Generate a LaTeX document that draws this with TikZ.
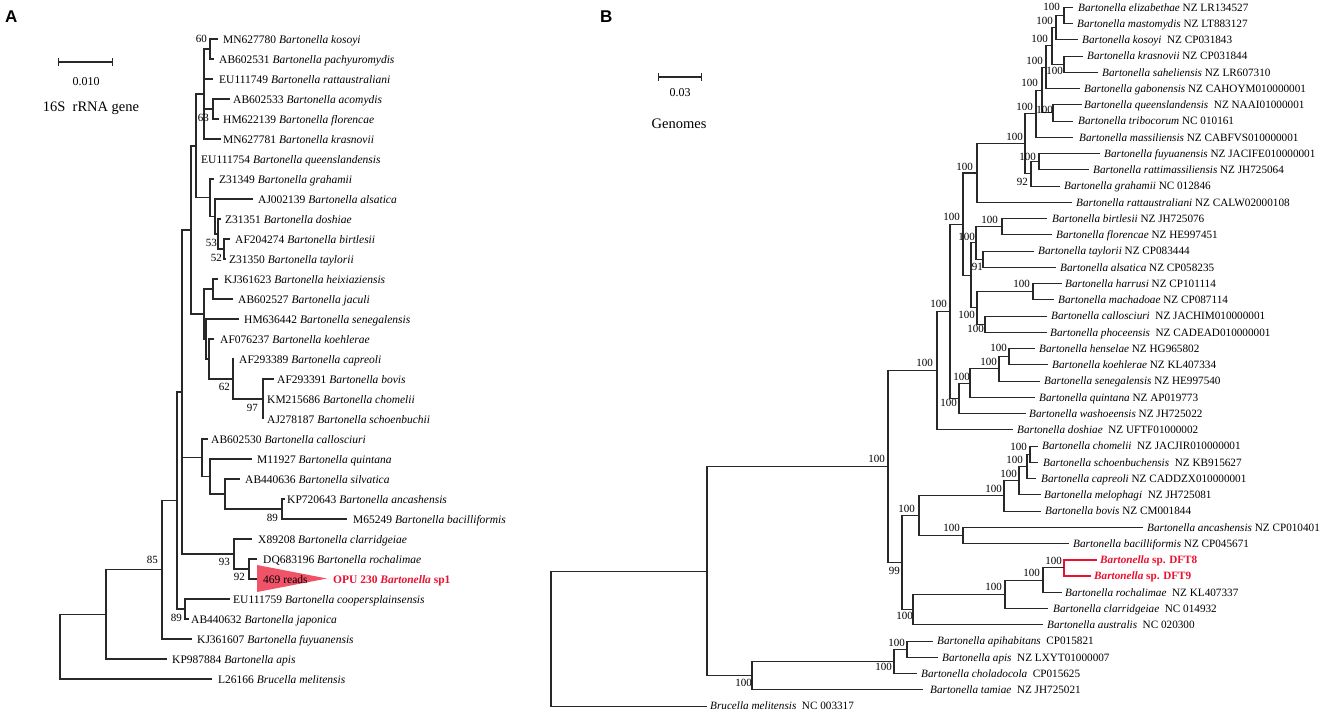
\documentclass[tikz,border=0pt]{standalone}
\usepackage{fontspec}
\setmainfont{Liberation Serif}
\newfontfamily\panelsans{Liberation Sans}
\definecolor{hl}{RGB}{232,18,48}
\definecolor{trifill}{RGB}{240,82,104}
\definecolor{ln}{RGB}{40,40,40}
\newcommand{\tipA}[5]{\coordinate (#1) at (#2,#3); \node[taxa] (l#1) at (#4,#3) {#5};}
\newcommand{\tipB}[5]{\coordinate (#1) at (#2,#3); \node[taxb] (l#1) at (#4,#3) {#5};}
\newcommand{\bt}[2]{\textit{Bartonella #1}\ #2}
\begin{document}
\begin{tikzpicture}[x=1pt,y=-1pt,
  br/.style={draw=ln, line width=1.1pt},
  redbr/.style={draw=hl, line width=1.5pt},
  taxa/.style={anchor=base west, inner sep=0pt, yshift=-4pt, font=\fontsize{11.5}{13}\selectfont},
  taxb/.style={anchor=base west, inner sep=0pt, yshift=-3.9pt, font=\fontsize{11.2}{13}\selectfont},
  bs/.style={anchor=base east, inner sep=0pt, yshift=-3.8pt, font=\fontsize{11}{12}\selectfont},
  panel/.style={anchor=base west, inner sep=0pt, font=\panelsans\bfseries\fontsize{17}{18}\selectfont},
  sbar/.style={draw=ln, line width=1.1pt, |-|}]
\useasboundingbox (0,0) rectangle (1325,712);
\fill[white] (0,0) rectangle (1325,712);

% ================= Panel A =================
\node[panel] (pA) at (5,23) {A};
\coordinate (sa1) at (58,62); \coordinate (sa2) at (113,62);
\draw[sbar] (sa1) -- (sa2);
\node[font=\fontsize{12}{13}\selectfont, inner sep=0pt] (sal) at (86,82) {0.010};
\node[font=\fontsize{14.5}{16}\selectfont, inner sep=0pt] (gene) at (91,108) {16S\ \ rRNA gene};

\tipA{a0}{218}{39}{223}{MN627780 \textit{Bartonella kosoyi}}
\tipA{a1}{214}{59}{219}{AB602531 \textit{Bartonella pachyuromydis}}
\tipA{a2}{213}{79}{219}{EU111749 \textit{Bartonella rattaustraliani}}
\tipA{a3}{230}{99}{233}{AB602533 \textit{Bartonella acomydis}}
\tipA{a4}{219}{119}{223}{HM622139 \textit{Bartonella florencae}}
\tipA{a5}{221}{139}{223}{MN627781 \textit{Bartonella krasnovii}}
\tipA{a6}{197}{159}{201}{EU111754 \textit{Bartonella queenslandensis}}
\tipA{a7}{214}{179}{219}{Z31349 \textit{Bartonella grahamii}}
\tipA{a8}{253}{199}{258}{AJ002139 \textit{Bartonella alsatica}}
\tipA{a9}{221}{219}{225}{Z31351 \textit{Bartonella doshiae}}
\tipA{a10}{230}{239}{235}{AF204274 \textit{Bartonella birtlesii}}
\tipA{a11}{226}{259}{229}{Z31350 \textit{Bartonella taylorii}}
\tipA{a12}{218}{279}{224}{KJ361623 \textit{Bartonella heixiaziensis}}
\tipA{a13}{233}{299}{238}{AB602527 \textit{Bartonella jaculi}}
\tipA{a14}{239}{319}{244}{HM636442 \textit{Bartonella senegalensis}}
\tipA{a15}{214}{339}{220}{AF076237 \textit{Bartonella koehlerae}}
\tipA{a16}{234}{359}{239}{AF293389 \textit{Bartonella capreoli}}
\tipA{a17}{274}{379}{277}{AF293391 \textit{Bartonella bovis}}
\tipA{a18}{263}{399}{267}{KM215686 \textit{Bartonella chomelii}}
\tipA{a19}{263}{419}{267}{AJ278187 \textit{Bartonella schoenbuchii}}
\tipA{a20}{208}{439}{211}{AB602530 \textit{Bartonella callosciuri}}
\tipA{a21}{252}{459}{257}{M11927 \textit{Bartonella quintana}}
\tipA{a22}{240}{479}{245}{AB440636 \textit{Bartonella silvatica}}
\tipA{a23}{285}{499}{287}{KP720643 \textit{Bartonella ancashensis}}
\tipA{a24}{347}{519}{353}{M65249 \textit{Bartonella bacilliformis}}
\tipA{a25}{252}{539}{258}{X89208 \textit{Bartonella clarridgeiae}}
\tipA{a26}{257}{559}{263}{DQ683196 \textit{Bartonella rochalimae}}
\coordinate (a27) at (257,579);
\tipA{a28}{230}{599}{233}{EU111759 \textit{Bartonella coopersplainsensis}}
\tipA{a29}{189}{619}{191}{AB440632 \textit{Bartonella japonica}}
\tipA{a30}{192}{639}{197}{KJ361607 \textit{Bartonella fuyuanensis}}
\tipA{a31}{167}{659}{172}{KP987884 \textit{Bartonella apis}}
\tipA{a32}{212}{679}{218}{L26166 \textit{Brucella melitensis}}

% collapsed clade
\fill[trifill] (257,565) -- (327,578.5) -- (257,592) -- cycle;
\node[taxa] (reads) at (263,579) {469 reads};
\node[taxa, text=hl] (opu) at (333,579) {\bfseries OPU 230 \textit{Bartonella} sp1};

\coordinate (a60) at (210,49);
\coordinate (a63) at (213,109);
\coordinate (aP1) at (204,94);
\coordinate (aN4) at (224,249);
\coordinate (aN3) at (218,234);
\coordinate (aN2) at (215,216.5);
\coordinate (aN1) at (210,197.75);
\coordinate (aQ) at (196,146);
\coordinate (aH1) at (213,289);
\coordinate (a97) at (263,399);
\coordinate (a62) at (233,379);
\coordinate (aK) at (209,359);
\coordinate (aHp) at (206,339);
\coordinate (aH) at (204,314);
\coordinate (a191) at (191,230);
\coordinate (a282) at (282,509);
\coordinate (a225) at (225,494);
\coordinate (a210) at (210,476.5);
\coordinate (a202) at (202,457.75);
\coordinate (a92) at (249,569);
\coordinate (a93) at (234,554);
\coordinate (a182) at (182,392);
\coordinate (a89) at (185,609);
\coordinate (a177) at (177,500.5);
\coordinate (a85) at (162,569.75);
\coordinate (a106) at (106,614.4);
\coordinate (aR) at (60,646.7);

\draw[br] (a60) |- (a0);  \draw[br] (a60) |- (a1);
\draw[br] (a63) |- (a3);  \draw[br] (a63) |- (a4);
\draw[br] (aP1) |- (a60); \draw[br] (aP1) |- (a2); \draw[br] (aP1) |- (a63); \draw[br] (aP1) |- (a5);
\draw[br] (aN4) |- (a10); \draw[br] (aN4) |- (a11);
\draw[br] (aN3) |- (a9);  \draw[br] (aN3) |- (aN4);
\draw[br] (aN2) |- (a8);  \draw[br] (aN2) |- (aN3);
\draw[br] (aN1) |- (a7);  \draw[br] (aN1) |- (aN2);
\draw[br] (aQ) |- (aP1);  \draw[br] (aQ) |- (a6); \draw[br] (aQ) |- (aN1);
\draw[br] (aH1) |- (a12); \draw[br] (aH1) |- (a13);
\draw[br] (a97) |- (a17); \draw[br] (a97) |- (a18); \draw[br] (a97) |- (a19);
\draw[br] (a62) |- (a16); \draw[br] (a62) |- (a97);
\draw[br] (aK) |- (a15);  \draw[br] (aK) |- (a62);
\draw[br] (aHp) |- (a14); \draw[br] (aHp) |- (aK);
\draw[br] (aH) |- (aH1);  \draw[br] (aH) |- (aHp);
\draw[br] (a191) |- (aQ); \draw[br] (a191) |- (aH);
\draw[br] (a282) |- (a23); \draw[br] (a282) |- (a24);
\draw[br] (a225) |- (a22); \draw[br] (a225) |- (a282);
\draw[br] (a210) |- (a21); \draw[br] (a210) |- (a225);
\draw[br] (a202) |- (a20); \draw[br] (a202) |- (a210);
\draw[br] (a92) |- (a26); \draw[br] (a92) |- (a27);
\draw[br] (a93) |- (a25); \draw[br] (a93) |- (a92);
\draw[br] (a182) |- (a191); \draw[br] (a182) |- (a202); \draw[br] (a182) |- (a93);
\draw[br] (a89) |- (a28); \draw[br] (a89) |- (a29);
\draw[br] (a177) |- (a182); \draw[br] (a177) |- (a89);
\draw[br] (a85) |- (a177); \draw[br] (a85) |- (a30);
\draw[br] (a106) |- (a85); \draw[br] (a106) |- (a31);
\draw[br] (aR) |- (a106); \draw[br] (aR) |- (a32);

\node[bs] (s60) at (207,39) {60};
\node[bs] (s63) at (209,118) {63};
\node[bs] (s53) at (217,243) {53};
\node[bs] (s52) at (222,258) {52};
\node[bs] (s62) at (230,387) {62};
\node[bs] (s97) at (258,408) {97};
\node[bs] (s89a) at (278,518) {89};
\node[bs] (s93) at (230,562) {93};
\node[bs] (s92) at (245,577) {92};
\node[bs] (s89b) at (182,618) {89};
\node[bs] (s85) at (158,560) {85};

% ================= Panel B =================
\node[panel] (pB) at (600,23) {B};
\coordinate (sb1) at (658,77); \coordinate (sb2) at (702,77);
\draw[sbar] (sb1) -- (sb2);
\node[font=\fontsize{12}{13}\selectfont, inner sep=0pt] (sbl) at (680,93) {0.03};
\node[font=\fontsize{14.5}{16}\selectfont, inner sep=0pt] (genomes) at (679,124) {Genomes};

\tipB{b0}{1073}{7.3}{1078}{\bt{elizabethae}{NZ LR134527}}
\tipB{b1}{1073}{23.55}{1077}{\bt{mastomydis}{NZ LT883127}}
\tipB{b2}{1078}{39.8}{1082}{\bt{kosoyi}{\ NZ CP031843}}
\tipB{b3}{1083}{56.05}{1087}{\bt{krasnovii}{NZ CP031844}}
\tipB{b4}{1098}{72.3}{1102}{\bt{saheliensis}{NZ LR607310}}
\tipB{b5}{1080}{88.55}{1084}{\bt{gabonensis}{NZ CAHOYM010000001}}
\tipB{b6}{1082}{104.8}{1084}{\bt{queenslandensis}{\ NZ NAAI01000001}}
\tipB{b7}{1073}{121.05}{1078}{\bt{tribocorum}{NC 010161}}
\tipB{b8}{1073}{137.3}{1079}{\bt{massiliensis}{NZ CABFVS010000001}}
\tipB{b9}{1100}{153.55}{1104}{\bt{fuyuanensis}{NZ JACIFE010000001}}
\tipB{b10}{1089}{169.8}{1093}{\bt{rattimassiliensis}{NZ JH725064}}
\tipB{b11}{1060}{186.05}{1064}{\bt{grahamii}{NC 012846}}
\tipB{b12}{1072}{202.3}{1076}{\bt{rattaustraliani}{NZ CALW02000108}}
\tipB{b13}{1047}{218.55}{1052}{\bt{birtlesii}{NZ JH725076}}
\tipB{b14}{1052}{234.8}{1056}{\bt{florencae}{NZ HE997451}}
\tipB{b15}{1034}{251.05}{1038}{\bt{taylorii}{NZ CP083444}}
\tipB{b16}{1056}{267.3}{1060}{\bt{alsatica}{NZ CP058235}}
\tipB{b17}{1062}{283.55}{1065}{\bt{harrusi}{NZ CP101114}}
\tipB{b18}{1054}{299.8}{1058}{\bt{machadoae}{NZ CP087114}}
\tipB{b19}{1047}{316.05}{1051}{\bt{callosciuri}{\ NZ JACHIM010000001}}
\tipB{b20}{1047}{332.3}{1050}{\bt{phoceensis}{\ NZ CADEAD010000001}}
\tipB{b21}{1035}{348.55}{1039}{\bt{henselae}{NZ HG965802}}
\tipB{b22}{1048}{364.8}{1052}{\bt{koehlerae}{NZ KL407334}}
\tipB{b23}{1040}{381.05}{1044}{\bt{senegalensis}{NZ HE997540}}
\tipB{b24}{1035}{397.3}{1039}{\bt{quintana}{NZ AP019773}}
\tipB{b25}{1026}{413.55}{1029}{\bt{washoeensis}{NZ JH725022}}
\tipB{b26}{1013}{429.8}{1017}{\bt{doshiae}{\ NZ UFTF01000002}}
\tipB{b27}{1038}{446.05}{1042}{\bt{chomelii}{\ NZ JACJIR010000001}}
\tipB{b28}{1038}{462.3}{1043}{\bt{schoenbuchensis}{\ NZ KB915627}}
\tipB{b29}{1036}{478.55}{1041}{\bt{capreoli}{NZ CADDZX010000001}}
\tipB{b30}{1041}{494.8}{1044}{\bt{melophagi}{\ NZ JH725081}}
\tipB{b31}{1041}{511.05}{1045}{\bt{bovis}{NZ CM001844}}
\tipB{b32}{1143}{527.3}{1147}{\bt{ancashensis}{NZ CP010401}}
\tipB{b33}{1069}{543.55}{1073}{\bt{bacilliformis}{NZ CP045671}}
\tipB{b34}{1097}{559.8}{1100}{\textcolor{hl}{\bfseries\textit{Bartonella} sp. DFT8}}
\tipB{b35}{1091}{576.05}{1094}{\textcolor{hl}{\bfseries\textit{Bartonella} sp. DFT9}}
\tipB{b36}{1062}{592.3}{1065}{\bt{rochalimae}{\ NZ KL407337}}
\tipB{b37}{1048}{608.55}{1053}{\bt{clarridgeiae}{\ NC 014932}}
\tipB{b38}{1043}{624.8}{1047}{\bt{australis}{\ NC 020300}}
\tipB{b39}{933}{641.05}{937}{\bt{apihabitans}{\ CP015821}}
\tipB{b40}{938}{657.3}{942}{\bt{apis}{\ NZ LXYT01000007}}
\tipB{b41}{917}{673.55}{921}{\bt{choladocola}{\ CP015625}}
\tipB{b42}{923}{689.8}{930}{\bt{tamiae}{\ NZ JH725021}}
\tipB{b43}{707}{706.05}{710}{\textit{Brucella melitensis}\ \ NC 003317}

\coordinate (bA1) at (1064,15.4);
\coordinate (bA2) at (1056,27.6);
\coordinate (bA3) at (1064,64.2);
\coordinate (bA4) at (1052,45.9);
\coordinate (bA5) at (1046,67.2);
\coordinate (bA6) at (1053,112.9);
\coordinate (bA7) at (1042,90.1);
\coordinate (bA8) at (1036,113.7);
\coordinate (bA9) at (1039,161.7);
\coordinate (bA10) at (1031,173.9);
\coordinate (bA11) at (1025,143.8);
\coordinate (bA12) at (977,173.0);
\coordinate (bC1) at (1002,226.7);
\coordinate (bC2) at (983,259.2);
\coordinate (bC3) at (976,242.9);
\coordinate (bC4) at (1033,291.7);
\coordinate (bC5) at (985,324.2);
\coordinate (bC6) at (977,307.9);
\coordinate (bZ) at (971,275.4);
\coordinate (bNa) at (963,224.2);
\coordinate (bD1) at (1009,356.7);
\coordinate (bD2) at (999,368.9);
\coordinate (bD3) at (970,383.1);
\coordinate (bD4) at (959,398.3);
\coordinate (bE) at (950,311.3);
\coordinate (bF) at (937,370.5);
\coordinate (bN) at (1030,454.2);
\coordinate (bO) at (1027,466.4);
\coordinate (bM) at (1019,480.6);
\coordinate (bL) at (1004,495.8);
\coordinate (bP) at (963,535.4);
\coordinate (bI) at (919,515.6);
\coordinate (bQ) at (1064,567.9);
\coordinate (bR) at (1043,580.1);
\coordinate (bK) at (1005,594.3);
\coordinate (bJ) at (913,609.6);
\coordinate (bH) at (902,562.6);
\coordinate (bG) at (888,466.6);
\coordinate (bS) at (907,649.2);
\coordinate (bT) at (894,661.4);
\coordinate (bU) at (752,675.6);
\coordinate (bV) at (707,571.1);
\coordinate (bW) at (551,638.6);

\draw[br] (bA1) |- (b0); \draw[br] (bA1) |- (b1);
\draw[br] (bA2) |- (bA1); \draw[br] (bA2) |- (b2);
\draw[br] (bA3) |- (b3); \draw[br] (bA3) |- (b4);
\draw[br] (bA4) |- (bA2); \draw[br] (bA4) |- (bA3);
\draw[br] (bA5) |- (bA4); \draw[br] (bA5) |- (b5);
\draw[br] (bA6) |- (b6); \draw[br] (bA6) |- (b7);
\draw[br] (bA7) |- (bA5); \draw[br] (bA7) |- (bA6);
\draw[br] (bA8) |- (bA7); \draw[br] (bA8) |- (b8);
\draw[br] (bA9) |- (b9); \draw[br] (bA9) |- (b10);
\draw[br] (bA10) |- (bA9); \draw[br] (bA10) |- (b11);
\draw[br] (bA11) |- (bA8); \draw[br] (bA11) |- (bA10);
\draw[br] (bA12) |- (bA11); \draw[br] (bA12) |- (b12);
\draw[br] (bC1) |- (b13); \draw[br] (bC1) |- (b14);
\draw[br] (bC2) |- (b15); \draw[br] (bC2) |- (b16);
\draw[br] (bC3) |- (bC1); \draw[br] (bC3) |- (bC2);
\draw[br] (bC4) |- (b17); \draw[br] (bC4) |- (b18);
\draw[br] (bC5) |- (b19); \draw[br] (bC5) |- (b20);
\draw[br] (bC6) |- (bC4); \draw[br] (bC6) |- (bC5);
\draw[br] (bZ) |- (bC3); \draw[br] (bZ) |- (bC6);
\draw[br] (bNa) |- (bA12); \draw[br] (bNa) |- (bZ);
\draw[br] (bD1) |- (b21); \draw[br] (bD1) |- (b22);
\draw[br] (bD2) |- (bD1); \draw[br] (bD2) |- (b23);
\draw[br] (bD3) |- (bD2); \draw[br] (bD3) |- (b24);
\draw[br] (bD4) |- (bD3); \draw[br] (bD4) |- (b25);
\draw[br] (bE) |- (bNa); \draw[br] (bE) |- (bD4);
\draw[br] (bF) |- (bE); \draw[br] (bF) |- (b26);
\draw[br] (bN) |- (b27); \draw[br] (bN) |- (b28);
\draw[br] (bO) |- (bN); \draw[br] (bO) |- (b29);
\draw[br] (bM) |- (bO); \draw[br] (bM) |- (b30);
\draw[br] (bL) |- (bM); \draw[br] (bL) |- (b31);
\draw[br] (bP) |- (b32); \draw[br] (bP) |- (b33);
\draw[br] (bI) |- (bL); \draw[br] (bI) |- (bP);
\draw[redbr] (bQ) |- (b34); \draw[redbr] (bQ) |- (b35);
\draw[br] (bR) |- (bQ); \draw[br] (bR) |- (b36);
\draw[br] (bK) |- (bR); \draw[br] (bK) |- (b37);
\draw[br] (bJ) |- (bK); \draw[br] (bJ) |- (b38);
\draw[br] (bH) |- (bI); \draw[br] (bH) |- (bJ);
\draw[br] (bG) |- (bF); \draw[br] (bG) |- (bH);
\draw[br] (bS) |- (b39); \draw[br] (bS) |- (b40);
\draw[br] (bT) |- (bS); \draw[br] (bT) |- (b41);
\draw[br] (bU) |- (bT); \draw[br] (bU) |- (b42);
\draw[br] (bV) |- (bG); \draw[br] (bV) |- (bU);
\draw[br] (bW) |- (bV); \draw[br] (bW) |- (b43);

\node[bs] (tA1) at (1060,7) {100};
\node[bs] (tA2) at (1053,21) {100};
\node[bs] (tA4) at (1048,39) {100};
\node[bs] (tA5) at (1043,61) {100};
\node[bs] (tA3) at (1063,71) {100};
\node[bs] (tA7) at (1038,83) {100};
\node[bs] (tA8) at (1033,107) {100};
\node[bs] (tA6) at (1053,110) {100};
\node[bs] (tA11) at (1023,137) {100};
\node[bs] (tA9) at (1036,157) {100};
\node[bs] (tA10) at (1028,182) {92};
\node[bs] (tA12) at (973,167) {100};
\node[bs] (tNa) at (960,217) {100};
\node[bs] (tC1) at (998,220) {100};
\node[bs] (tC3) at (975,237) {100};
\node[bs] (tC2) at (983,267) {91};
\node[bs] (tC4) at (1030,284) {100};
\node[bs] (tE) at (947,304) {100};
\node[bs] (tC6) at (975,315) {100};
\node[bs] (tC5) at (984,329) {100};
\node[bs] (tF) at (933,363) {100};
\node[bs] (tD1) at (1007,348) {100};
\node[bs] (tD2) at (997,362) {100};
\node[bs] (tD3) at (970,377) {100};
\node[bs] (tD4) at (957,403) {100};
\node[bs] (tN) at (1027,447) {100};
\node[bs] (tO) at (1023,460) {100};
\node[bs] (tM) at (1017,474) {100};
\node[bs] (tL) at (1002,489) {100};
\node[bs] (tG) at (885,459) {100};
\node[bs] (tI) at (915,509) {100};
\node[bs] (tP) at (960,528) {100};
\node[bs] (tQ) at (1062,561) {100};
\node[bs] (tR) at (1040,573) {100};
\node[bs] (tH) at (900,571) {99};
\node[bs] (tK) at (1002,587) {100};
\node[bs] (tJ) at (913,616) {100};
\node[bs] (tS) at (905,643) {100};
\node[bs] (tT) at (892,667) {100};
\node[bs] (tU) at (752,683) {100};
\end{tikzpicture}
\end{document}
